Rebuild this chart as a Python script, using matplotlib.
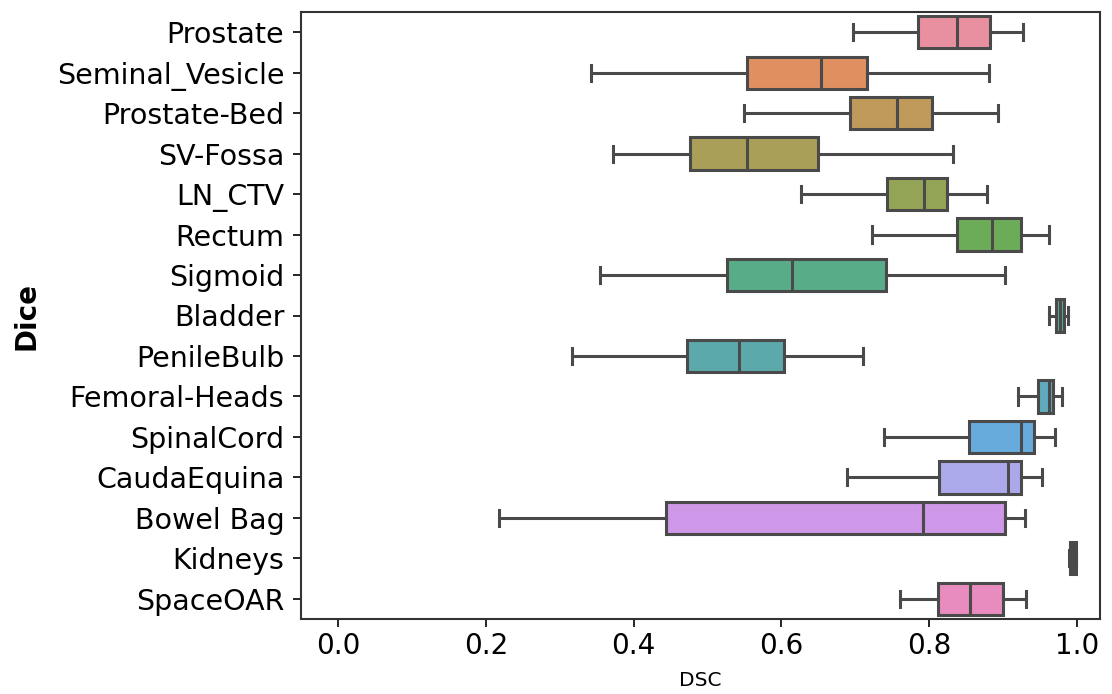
import numpy as np
import matplotlib
matplotlib.use("Agg")
import matplotlib.pyplot as plt
import seaborn as sns

# Categorias (de arriba hacia abajo)
organos = ["Prostate", "Seminal_Vesicle", "Prostate-Bed", "SV-Fossa", "LN_CTV",
           "Rectum", "Sigmoid", "Bladder", "PenileBulb", "Femoral-Heads",
           "SpinalCord", "CaudaEquina", "Bowel Bag", "Kidneys", "SpaceOAR"]

# Resumen de cada caja
bigote_inf = [0.697, 0.343, 0.549, 0.372, 0.626, 0.723, 0.355, 0.962, 0.316,
              0.920, 0.739, 0.689, 0.218, 0.989, 0.761]
q1 = [0.785, 0.553, 0.693, 0.476, 0.743, 0.838, 0.527, 0.972, 0.472,
      0.947, 0.854, 0.813, 0.444, 0.991, 0.812]
mediana = [0.838, 0.653, 0.757, 0.554, 0.793, 0.885, 0.614, 0.977, 0.543,
           0.962, 0.924, 0.907, 0.792, 0.995, 0.855]
q3 = [0.882, 0.716, 0.804, 0.650, 0.824, 0.924, 0.741, 0.982, 0.603,
      0.967, 0.942, 0.924, 0.903, 0.998, 0.900]
bigote_sup = [0.927, 0.881, 0.893, 0.832, 0.878, 0.962, 0.903, 0.988, 0.711,
              0.980, 0.970, 0.953, 0.930, 0.999, 0.931]

# Se arman las estadisticas para bxp
stats = []
for i, nombre in enumerate(organos):
    stats.append({'label': nombre, 'whislo': bigote_inf[i], 'q1': q1[i],
                  'med': mediana[i], 'q3': q3[i], 'whishi': bigote_sup[i],
                  'fliers': []})

# Paleta husl desaturada y un poco aclarada
colores = []
for c in sns.color_palette("husl", len(organos)):
    c = np.array(sns.desaturate(c, 0.75))
    colores.append(tuple(c + (1 - c) * 0.12))
gris = "#4a4a4a"

fig = plt.figure(figsize=(11.12, 6.94), dpi=100)
ax = fig.add_axes([301 / 1112, 75 / 694, 799 / 1112, 607 / 694])

posiciones = np.arange(len(organos))
bp = ax.bxp(stats, positions=posiciones, vert=False, widths=0.8,
            patch_artist=True, showfliers=False,
            boxprops=dict(edgecolor=gris, linewidth=2.2),
            medianprops=dict(color=gris, linewidth=2.2),
            whiskerprops=dict(color=gris, linewidth=2.2),
            capprops=dict(color=gris, linewidth=2.2))
for caja, color in zip(bp['boxes'], colores):
    caja.set_facecolor(color)

# Se personaliza el grafico
ax.set_ylim(len(organos) - 0.5, -0.5)
ax.set_xlim(-0.05, 1.031)
ax.set_yticks(posiciones)
ax.set_yticklabels(organos)
ax.set_xticks([0.0, 0.2, 0.4, 0.6, 0.8, 1.0])
ax.tick_params(axis='y', labelsize=20.5, length=6, width=1.2, pad=6)
ax.tick_params(axis='x', labelsize=20, length=6, width=1.2)
ax.set_xlabel("DSC", fontsize=14.5, labelpad=8)
ax.set_ylabel("Dice", fontsize=20, fontweight='bold', labelpad=12)
for spine in ax.spines.values():
    spine.set_linewidth(1.5)
    spine.set_color("#333333")

fig.savefig("out.png", dpi=100)
